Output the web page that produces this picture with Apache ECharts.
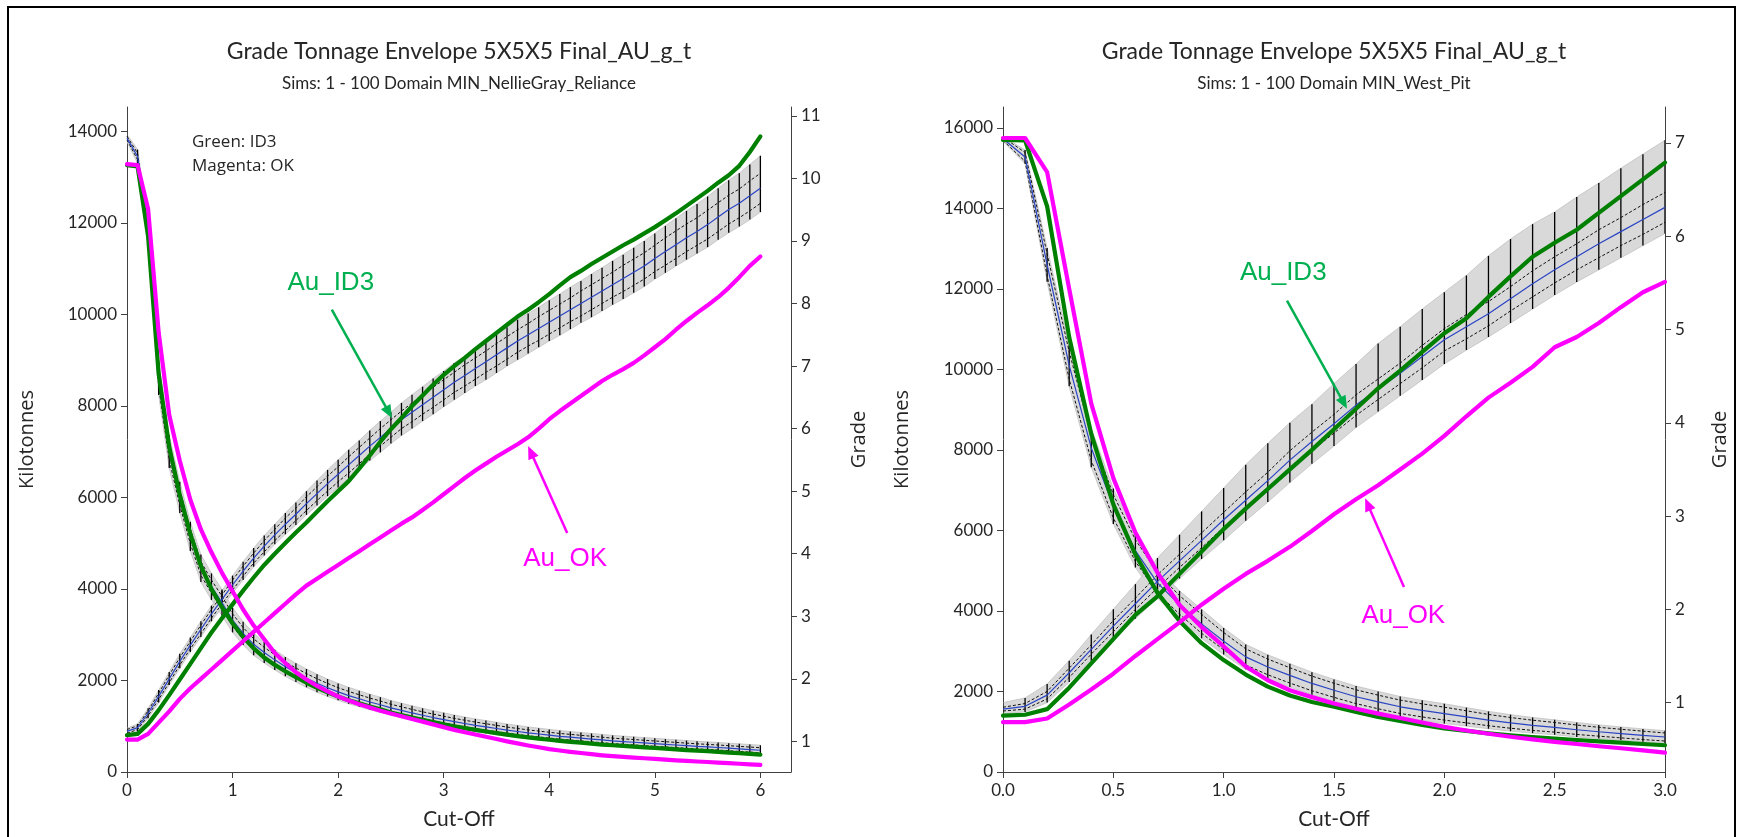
<!DOCTYPE html>
<html><head><meta charset="utf-8">
<script src="https://cdn.jsdelivr.net/npm/echarts@6/dist/echarts.min.js"></script>
<style>html,body{margin:0;padding:0;background:#fff;}#c{width:1737px;height:837px;}</style>
</head><body><div id="c"></div>
<script>
// ---------- LEFT PANEL: Domain MIN_NellieGray_Reliance ----------
const cutL = [0,0.1,0.2,0.3,0.4,0.5,0.6,0.7,0.8,0.9,1,1.1,1.2,1.3,1.4,1.5,1.6,1.7,1.8,1.9,2,2.1,2.2,2.3,2.4,2.5,2.6,2.7,2.8,2.9,3,3.1,3.2,3.3,3.4,3.5,3.6,3.7,3.8,3.9,4,4.1,4.2,4.3,4.4,4.5,4.6,4.7,4.8,4.9,5,5.1,5.2,5.3,5.4,5.5,5.6,5.7,5.8,5.9,6];
const tonMeanL = [13850,13450,11800,8600,7000,6000,5150,4450,4050,3700,3320,3030,2790,2610,2450,2300,2170,2050,1940,1840,1750,1670,1600,1530,1470,1400,1345,1290,1240,1190,1145,1100,1060,1020,985,950,915,885,855,830,805,780,760,740,720,700,680,665,650,635,620,605,590,575,560,548,535,520,505,490,475];
const tonHalfL = [80,150,280,360,360,340,320,300,290,285,270,255,240,230,220,210,205,200,195,190,185,180,175,170,165,160,158,155,152,150,148,145,142,140,138,136,134,132,130,128,126,125,124,123,122,121,120,119,118,117,116,115,114,113,112,111,110,110,110,110,110];
const tonDashL = [40,70,140,180,180,170,160,150,145,140,135,128,120,115,110,105,102,100,98,95,92,90,88,85,82,80,79,78,76,75,74,72,71,70,69,68,67,66,65,64,63,62,62,61,61,60,60,59,59,58,58,57,57,56,56,55,55,55,55,55,55];
const tonID3L = [13260,13230,11700,8700,7100,6050,5200,4500,4000,3600,3250,2950,2700,2500,2340,2200,2070,1950,1840,1740,1650,1570,1500,1430,1370,1300,1245,1190,1140,1090,1040,1000,960,920,885,850,815,785,755,730,705,680,660,640,620,600,585,570,555,540,525,510,495,480,465,455,440,425,410,395,380];
const tonOKL = [13280,13260,12300,9600,7800,6800,5950,5300,4800,4350,3950,3550,3200,2900,2600,2380,2180,2020,1880,1760,1650,1560,1480,1410,1340,1280,1220,1160,1100,1040,980,920,870,820,770,720,670,625,580,540,500,470,440,415,390,365,345,330,315,300,285,270,255,242,230,218,205,192,180,168,155];
const gradeMeanL = [1.16,1.22,1.45,1.72,2.0,2.28,2.54,2.79,3.04,3.27,3.5,3.72,3.93,4.12,4.3,4.47,4.63,4.8,4.96,5.12,5.27,5.42,5.57,5.72,5.86,6.0,6.14,6.26,6.38,6.5,6.62,6.74,6.85,6.96,7.07,7.18,7.29,7.4,7.5,7.6,7.7,7.8,7.9,8.0,8.1,8.2,8.3,8.4,8.5,8.6,8.72,8.83,8.94,9.05,9.15,9.26,9.38,9.5,9.6,9.72,9.84];
const gradeUpL = [0.05,0.06,0.08,0.1,0.11,0.12,0.12,0.13,0.13,0.14,0.15,0.15,0.16,0.17,0.17,0.18,0.19,0.2,0.21,0.22,0.23,0.24,0.24,0.25,0.26,0.26,0.27,0.28,0.29,0.3,0.3,0.31,0.31,0.32,0.32,0.33,0.33,0.34,0.34,0.34,0.35,0.35,0.36,0.36,0.37,0.37,0.38,0.38,0.39,0.4,0.4,0.41,0.42,0.43,0.44,0.45,0.46,0.47,0.48,0.5,0.52];
const gradeDnL = [0.05,0.06,0.08,0.1,0.1,0.11,0.11,0.12,0.12,0.13,0.13,0.14,0.14,0.15,0.15,0.16,0.17,0.18,0.19,0.2,0.21,0.22,0.22,0.23,0.24,0.24,0.25,0.26,0.26,0.27,0.27,0.28,0.28,0.28,0.29,0.29,0.29,0.3,0.3,0.3,0.3,0.31,0.31,0.31,0.32,0.32,0.32,0.33,0.33,0.33,0.33,0.34,0.34,0.35,0.35,0.36,0.36,0.37,0.37,0.38,0.38];
const gradeDashL = [0.03,0.03,0.04,0.05,0.06,0.06,0.06,0.07,0.07,0.07,0.08,0.08,0.08,0.09,0.09,0.1,0.1,0.11,0.11,0.12,0.12,0.13,0.13,0.13,0.14,0.14,0.14,0.15,0.15,0.16,0.16,0.16,0.17,0.17,0.17,0.18,0.18,0.18,0.18,0.19,0.19,0.19,0.19,0.2,0.2,0.2,0.2,0.21,0.21,0.21,0.21,0.22,0.22,0.22,0.22,0.23,0.23,0.23,0.23,0.24,0.24];
const gradeID3L = [1.1,1.12,1.28,1.5,1.74,1.99,2.24,2.49,2.74,2.97,3.19,3.41,3.62,3.82,4.0,4.17,4.34,4.5,4.67,4.84,5.0,5.16,5.36,5.57,5.79,5.99,6.17,6.36,6.53,6.7,6.86,7.0,7.13,7.27,7.4,7.53,7.66,7.79,7.9,8.02,8.15,8.29,8.42,8.52,8.63,8.73,8.83,8.93,9.02,9.12,9.22,9.33,9.44,9.56,9.68,9.8,9.93,10.05,10.2,10.42,10.67];
const gradeOKL = [1.03,1.03,1.12,1.3,1.48,1.68,1.85,2.0,2.15,2.3,2.45,2.6,2.75,2.9,3.05,3.2,3.35,3.49,3.6,3.71,3.82,3.93,4.04,4.15,4.26,4.37,4.48,4.58,4.7,4.82,4.95,5.08,5.21,5.33,5.44,5.55,5.65,5.75,5.86,6.0,6.15,6.28,6.4,6.52,6.64,6.76,6.86,6.95,7.05,7.17,7.3,7.43,7.58,7.72,7.85,7.97,8.1,8.25,8.42,8.6,8.75];

// ---------- RIGHT PANEL: Domain MIN_West_Pit ----------
const cutR = [0,0.1,0.2,0.3,0.4,0.5,0.6,0.7,0.8,0.9,1,1.1,1.2,1.3,1.4,1.5,1.6,1.7,1.8,1.9,2,2.1,2.2,2.3,2.4,2.5,2.6,2.7,2.8,2.9,3];
const tonMeanR = [15730,15280,12600,10100,8050,6600,5500,4700,4150,3680,3250,2860,2610,2400,2200,2030,1870,1740,1620,1530,1450,1370,1290,1220,1160,1110,1050,1000,955,910,870];
const tonHalfR = [60,170,420,520,480,440,420,380,350,360,330,310,300,290,280,270,265,260,255,250,245,230,215,205,195,185,180,170,165,160,155];
const tonDashR = [40,110,270,340,310,290,270,250,230,235,215,200,195,190,182,175,172,169,166,162,160,150,140,133,127,120,117,110,107,104,100];
const tonID3R = [15700,15690,14050,10800,8400,6650,5400,4450,3750,3200,2780,2420,2120,1900,1740,1620,1490,1370,1270,1170,1080,1020,960,910,870,830,795,760,730,695,665];
const tonOKR = [15750,15750,14900,12000,9150,7300,5950,4950,4150,3600,3120,2620,2280,2030,1860,1700,1570,1450,1340,1230,1120,1030,950,875,810,750,695,640,590,535,480];
const gradeMeanR = [0.93,0.96,1.08,1.32,1.57,1.82,2.06,2.3,2.52,2.74,2.96,3.17,3.38,3.6,3.8,3.99,4.19,4.36,4.53,4.71,4.89,5.03,5.17,5.33,5.49,5.64,5.78,5.92,6.05,6.18,6.31];
const gradeLoR = [0.88,0.9,1.0,1.22,1.45,1.68,1.9,2.12,2.33,2.54,2.74,2.95,3.15,3.36,3.56,3.75,3.95,4.12,4.29,4.46,4.63,4.78,4.92,5.07,5.22,5.37,5.51,5.64,5.77,5.9,6.03];
const gradeHiR = [1.0,1.05,1.2,1.45,1.73,2.0,2.27,2.55,2.8,3.05,3.3,3.55,3.78,4.0,4.2,4.42,4.63,4.85,5.03,5.22,5.4,5.58,5.79,5.97,6.13,6.26,6.42,6.57,6.73,6.88,7.03];
const gradeDashR = [0.02,0.03,0.04,0.05,0.05,0.06,0.06,0.07,0.07,0.08,0.08,0.09,0.09,0.1,0.1,0.1,0.11,0.11,0.11,0.12,0.12,0.13,0.13,0.13,0.14,0.14,0.14,0.15,0.15,0.16,0.16];
const gradeID3R = [0.86,0.87,0.93,1.16,1.42,1.68,1.94,2.14,2.38,2.62,2.86,3.08,3.29,3.5,3.71,3.93,4.15,4.37,4.56,4.76,4.96,5.12,5.35,5.57,5.78,5.93,6.07,6.25,6.43,6.61,6.79];
const gradeOKR = [0.79,0.79,0.83,0.98,1.14,1.31,1.5,1.68,1.86,2.05,2.22,2.38,2.52,2.67,2.84,3.02,3.18,3.33,3.5,3.67,3.86,4.07,4.27,4.43,4.6,4.81,4.92,5.07,5.24,5.4,5.51];

// ---------- tick labels ----------
const xTicksL = [0,1,2,3,4,5,6];
const tonTicksL = [0,2000,4000,6000,8000,10000,12000,14000];
const gradeTicksL = [1,2,3,4,5,6,7,8,9,10,11];
const xTicksR = [0,0.5,1,1.5,2,2.5,3];
const tonTicksR = [0,2000,4000,6000,8000,10000,12000,14000,16000];
const gradeTicksR = [1,2,3,4,5,6,7];

// ---------- text ----------
const titles = ['Grade Tonnage Envelope 5X5X5 Final_AU_g_t','Grade Tonnage Envelope 5X5X5 Final_AU_g_t'];
const subtitles = ['Sims: 1 - 100 Domain MIN_NellieGray_Reliance','Sims: 1 - 100 Domain MIN_West_Pit'];
// annotations in data coords on the grade axis: [grid, text, color, textPos, arrowFrom, arrowTo]
const annotations = [
  [0,'Au_ID3','#00B050',[1.93,8.33],[1.94,7.9],[2.51,6.17]],
  [0,'Au_OK','#FF00FF',[4.15,3.92],[4.17,4.33],[3.8,5.72]],
  [1,'Au_ID3','#00B050',[1.27,5.61],[1.287,5.31],[1.559,4.15]],
  [1,'Au_OK','#FF00FF',[1.814,1.93],[1.817,2.24],[1.641,3.19]]
];

const GREEN = '#008000', MAGENTA = '#FF00FF', BLUE = '#2a44c4';
const TXT = '#262626', AX = '#404040';

function pairs(xs, ys){ return xs.map((x,i)=>[x, ys[i]]); }
function shift(xs, m, d, s){ return xs.map((x,i)=>[x, m[i] + s*d[i]]); }

function envelope(xs, mean, lo, hi, dash, xi, yi){
  const band = xs.map((x,i)=>[x, lo[i], hi[i]]);
  return [
    {type:'custom', xAxisIndex:xi, yAxisIndex:yi, data:band, z:1, silent:true, clip:true,
     encode:{x:0, y:[1,2]},
     renderItem:(params, api)=>{
       if (params.dataIndex !== 0) return null;
       const pts = [];
       for (let i=0;i<band.length;i++) pts.push(api.coord([band[i][0], band[i][2]]));
       for (let i=band.length-1;i>=0;i--) pts.push(api.coord([band[i][0], band[i][1]]));
       return {type:'polygon', shape:{points:pts}, style:{fill:'#d9d9d9', stroke:'#c2c2c2', lineWidth:0.8}};
     }},
    {type:'custom', xAxisIndex:xi, yAxisIndex:yi, data:band, z:2, silent:true, clip:true,
     encode:{x:0, y:[1,2]},
     renderItem:(params, api)=>{
       const a = api.coord([api.value(0), api.value(1)]);
       const b = api.coord([api.value(0), api.value(2)]);
       return {type:'line', shape:{x1:a[0],y1:a[1],x2:b[0],y2:b[1]}, style:{stroke:'#000', lineWidth:1.3}};
     }},
    {type:'line', xAxisIndex:xi, yAxisIndex:yi, data:shift(xs, mean, dash, 1), showSymbol:false, symbol:'none', z:3, silent:true,
     lineStyle:{color:'#111', width:1, type:[3,2]}},
    {type:'line', xAxisIndex:xi, yAxisIndex:yi, data:shift(xs, mean, dash, -1), showSymbol:false, symbol:'none', z:3, silent:true,
     lineStyle:{color:'#111', width:1, type:[3,2]}},
    {type:'line', xAxisIndex:xi, yAxisIndex:yi, data:pairs(xs, mean), showSymbol:false, symbol:'none', z:4, silent:true,
     lineStyle:{color:BLUE, width:1.2}}
  ];
}
function thick(xs, ys, color, xi, yi, z){
  return {type:'line', xAxisIndex:xi, yAxisIndex:yi, data:pairs(xs, ys), showSymbol:false, symbol:'none', z:z, silent:true,
    lineStyle:{color:color, width:4.2, join:'round', cap:'round'}};
}
function axisStyle(ticks, fmt){
  return {
    axisLine:{show:true, onZero:false, lineStyle:{color:AX, width:1}},
    axisTick:{show:true, inside:false, length:6, customValues:ticks, lineStyle:{color:AX, width:1}},
    axisLabel:{show:true, customValues:ticks, formatter:fmt, fontFamily:'Lato', fontSize:17, color:TXT, margin:10},
    splitLine:{show:false}
  };
}
const nameStyle = {fontFamily:'Open Sans', fontSize:20, color:TXT};
const cutStyle = {fontFamily:'Lato', fontSize:21, color:TXT};

const tonLoL = tonMeanL.map((v,i)=>v - tonHalfL[i]), tonHiL = tonMeanL.map((v,i)=>v + tonHalfL[i]);
const grLoL = gradeMeanL.map((v,i)=>v - gradeDnL[i]), grHiL = gradeMeanL.map((v,i)=>v + gradeUpL[i]);
const tonLoR = tonMeanR.map((v,i)=>v - tonHalfR[i]), tonHiR = tonMeanR.map((v,i)=>v + tonHalfR[i]);

const chart = echarts.init(document.getElementById('c'), null, {renderer:'canvas'});
const option = {
  animation:false,
  backgroundColor:'#fff',
  grid:[
    {left:127, top:107, width:664, height:665},
    {left:1003, top:107, width:662, height:665}
  ],
  xAxis:[
    Object.assign({type:'value', gridIndex:0, min:0, max:6.29, name:'Cut-Off', nameLocation:'middle', nameGap:37, nameTextStyle:cutStyle}, axisStyle(xTicksL, v=>String(v))),
    Object.assign({type:'value', gridIndex:1, min:0, max:3, name:'Cut-Off', nameLocation:'middle', nameGap:37, nameTextStyle:cutStyle}, axisStyle(xTicksR, v=>v.toFixed(1)))
  ],
  yAxis:[
    Object.assign({type:'value', gridIndex:0, position:'left', min:0, max:14530, name:'Kilotonnes', nameLocation:'middle', nameRotate:90, nameGap:90, nameTextStyle:nameStyle}, axisStyle(tonTicksL, v=>String(v))),
    Object.assign({type:'value', gridIndex:0, position:'right', min:0.511, max:11.14, name:'Grade', nameLocation:'middle', nameRotate:90, nameGap:58, nameTextStyle:nameStyle}, axisStyle(gradeTicksL, v=>String(v))),
    Object.assign({type:'value', gridIndex:1, position:'left', min:0, max:16520, name:'Kilotonnes', nameLocation:'middle', nameRotate:90, nameGap:91, nameTextStyle:nameStyle}, axisStyle(tonTicksR, v=>String(v))),
    Object.assign({type:'value', gridIndex:1, position:'right', min:0.256, max:7.386, name:'Grade', nameLocation:'middle', nameRotate:90, nameGap:45, nameTextStyle:nameStyle}, axisStyle(gradeTicksR, v=>String(v)))
  ],
  series:[
    ...envelope(cutL, tonMeanL, tonLoL, tonHiL, tonDashL, 0, 0),
    ...envelope(cutL, gradeMeanL, grLoL, grHiL, gradeDashL, 0, 1),
    thick(cutL, tonID3L, GREEN, 0, 0, 5), thick(cutL, gradeID3L, GREEN, 0, 1, 5),
    thick(cutL, tonOKL, MAGENTA, 0, 0, 6), thick(cutL, gradeOKL, MAGENTA, 0, 1, 6),
    ...envelope(cutR, tonMeanR, tonLoR, tonHiR, tonDashR, 1, 2),
    ...envelope(cutR, gradeMeanR, gradeLoR, gradeHiR, gradeDashR, 1, 3),
    thick(cutR, tonID3R, GREEN, 1, 2, 5), thick(cutR, gradeID3R, GREEN, 1, 3, 5),
    thick(cutR, tonOKR, MAGENTA, 1, 2, 6), thick(cutR, gradeOKR, MAGENTA, 1, 3, 6)
  ]
};
chart.setOption(option);

function arrow(p0, p1, color, w){
  const dx=p1[0]-p0[0], dy=p1[1]-p0[1], L=Math.hypot(dx,dy), ux=dx/L, uy=dy/L;
  const hl=13, hw=5.5, bx=p1[0]-ux*hl, by=p1[1]-uy*hl;
  return [
    {type:'line', shape:{x1:p0[0],y1:p0[1],x2:bx+ux*2,y2:by+uy*2}, style:{stroke:color, lineWidth:w}, z:100},
    {type:'polygon', shape:{points:[[p1[0],p1[1]],[bx-uy*hw,by+ux*hw],[bx+uy*hw,by-ux*hw]]}, style:{fill:color}, z:100}
  ];
}
const g = [];
g.push({type:'rect', shape:{x:8,y:7,width:1727,height:850}, style:{fill:null, stroke:'#000', lineWidth:2}, z:200});
const centers = [459, 1334];
for (let k=0;k<2;k++){
  g.push({type:'text', x:centers[k], y:52, style:{text:titles[k], fontFamily:'Lato', fontSize:23, fill:TXT, align:'center', verticalAlign:'middle'}, z:100});
  g.push({type:'text', x:centers[k], y:84, style:{text:subtitles[k], fontFamily:'Lato', fontSize:17, fill:TXT, align:'center', verticalAlign:'middle'}, z:100});
}
g.push({type:'text', x:192, y:142, style:{text:'Green: ID3', fontFamily:'Open Sans', fontSize:17, fill:TXT, align:'left', verticalAlign:'middle'}, z:100});
g.push({type:'text', x:192, y:166, style:{text:'Magenta: OK', fontFamily:'Open Sans', fontSize:17, fill:TXT, align:'left', verticalAlign:'middle'}, z:100});
annotations.forEach(a=>{
  const finder = a[0]===0 ? {xAxisIndex:0, yAxisIndex:1} : {xAxisIndex:1, yAxisIndex:3};
  const t = chart.convertToPixel(finder, a[3]);
  const p0 = chart.convertToPixel(finder, a[4]);
  const p1 = chart.convertToPixel(finder, a[5]);
  g.push({type:'text', x:t[0], y:t[1], style:{text:a[1], fontFamily:'Liberation Sans', fontSize:26, fill:a[2], align:'center', verticalAlign:'middle'}, z:100});
  arrow(p0, p1, a[2], 2.5).forEach(e=>g.push(e));
});
chart.setOption({graphic:g});
</script>
</body></html>
